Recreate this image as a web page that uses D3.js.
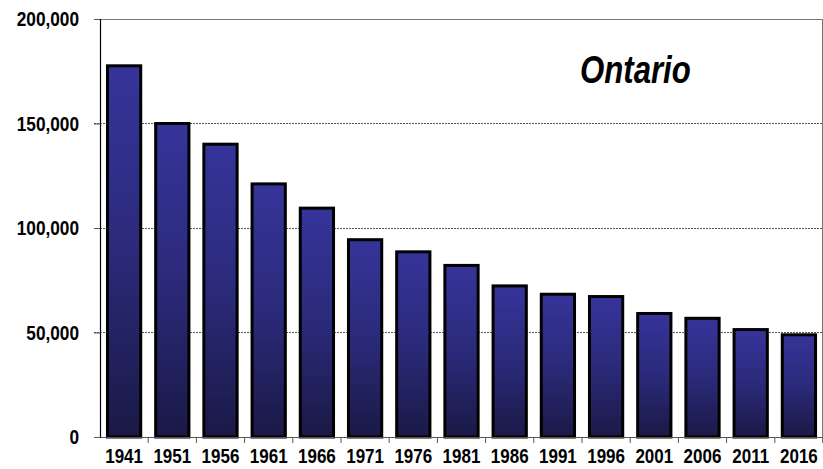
<!DOCTYPE html>
<html>
<head>
<meta charset="utf-8">
<script src="https://cdn.jsdelivr.net/npm/d3@7"></script>
<style>
  html, body { margin: 0; padding: 0; background: #fff; }
  svg text { font-family: "Liberation Sans Narrow", "Arial Narrow", "Liberation Sans", Arial, sans-serif; font-weight: bold; }
</style>
</head>
<body>
<svg id="chart" width="823" height="469"></svg>
<script>
const categories = ["1941","1951","1956","1961","1966","1971","1976","1981","1986","1991","1996","2001","2006","2011","2016"];
const values = [177600, 150000, 140100, 121100, 109500, 94400, 88600, 82100, 72300, 68300, 67200, 59100, 56800, 51400, 48900];
const yTicks = [0, 50000, 100000, 150000, 200000];
const title = "Ontario";

const svg = d3.select("#chart");
const mLeft = 100, mRight = 823, mTop = 19, mBottom = 437;

const x = d3.scaleBand().domain(categories).range([mLeft, mRight]).paddingInner(0.31).paddingOuter(0.155);
const y = d3.scaleLinear().domain([0, 200000]).range([mBottom, mTop]);

const defs = svg.append("defs");
const grad = defs.append("linearGradient").attr("id", "barGrad").attr("x1", 0).attr("y1", 0).attr("x2", 0).attr("y2", 1);
grad.append("stop").attr("offset", "0%").attr("stop-color", "#36349a");
grad.append("stop").attr("offset", "50%").attr("stop-color", "#2b2a7a");
grad.append("stop").attr("offset", "100%").attr("stop-color", "#1a1946");

const fontStack = '"Liberation Sans Narrow", "Arial Narrow", "Liberation Sans", Arial, sans-serif';

// narrow the text horizontally to mimic a condensed face
function condense(sel, factor) {
  sel.each(function () {
    const len = this.getComputedTextLength();
    d3.select(this).attr("textLength", len * factor).attr("lengthAdjust", "spacingAndGlyphs");
  });
}

// gridlines
svg.append("g").selectAll("line").data(yTicks.filter(d => d > 0)).join("line")
  .attr("x1", 94).attr("x2", mRight).attr("y1", d => y(d)).attr("y2", d => y(d))
  .attr("stroke", d => d === 200000 ? "#777" : "#555").attr("stroke-width", 1)
  .attr("stroke-dasharray", d => d === 200000 ? null : "2,1")
  .attr("shape-rendering", "crispEdges");

// right border
svg.append("line").attr("x1", mRight - 0.5).attr("x2", mRight - 0.5).attr("y1", mTop).attr("y2", mBottom + 6)
  .attr("stroke", "#777").attr("stroke-width", 1);

// bars
svg.append("g").selectAll("rect").data(categories).join("rect")
  .attr("x", d => x(d))
  .attr("y", (d, i) => y(values[i]))
  .attr("width", x.bandwidth())
  .attr("height", (d, i) => y(0) - y(values[i]))
  .attr("fill", "url(#barGrad)")
  .attr("stroke", "#000").attr("stroke-width", 3);

// y axis
const yAxis = d3.axisLeft(y).tickValues(yTicks).tickSize(6).tickPadding(15).tickFormat(d3.format(","));
const gy = svg.append("g").attr("transform", `translate(${mLeft},0)`).call(yAxis);
gy.select(".domain").attr("stroke", "#000").attr("stroke-width", 1.2);
gy.selectAll(".tick line").attr("stroke", "#555");
gy.selectAll("text").attr("font-size", 21).attr("fill", "#000")
  .style("font-family", fontStack).style("font-weight", "bold").call(condense, 0.82);

// x axis
const xAxis = d3.axisBottom(x).tickSize(0).tickPadding(12);
const gx = svg.append("g").attr("transform", `translate(0,${mBottom})`).call(xAxis);
gx.select(".domain").attr("stroke", "#555").attr("stroke-width", 1);
gx.selectAll("text").attr("font-size", 20).attr("fill", "#000")
  .style("font-family", fontStack).style("font-weight", "bold").call(condense, 0.85);
// tick marks between categories
const step = x.step();
const boundaries = categories.map(c => x(c) - (step - x.bandwidth()) / 2).slice(1);
svg.append("g").selectAll("line").data(boundaries).join("line")
  .attr("x1", d => d).attr("x2", d => d).attr("y1", mBottom).attr("y2", mBottom + 6)
  .attr("stroke", "#555").attr("stroke-width", 1);

// title
svg.append("text").attr("x", 580).attr("y", 83).text(title)
  .attr("font-size", 38).attr("font-style", "italic").attr("fill", "#000")
  .style("font-family", fontStack).style("font-weight", "bold").call(condense, 0.82);
</script>
</body>
</html>
